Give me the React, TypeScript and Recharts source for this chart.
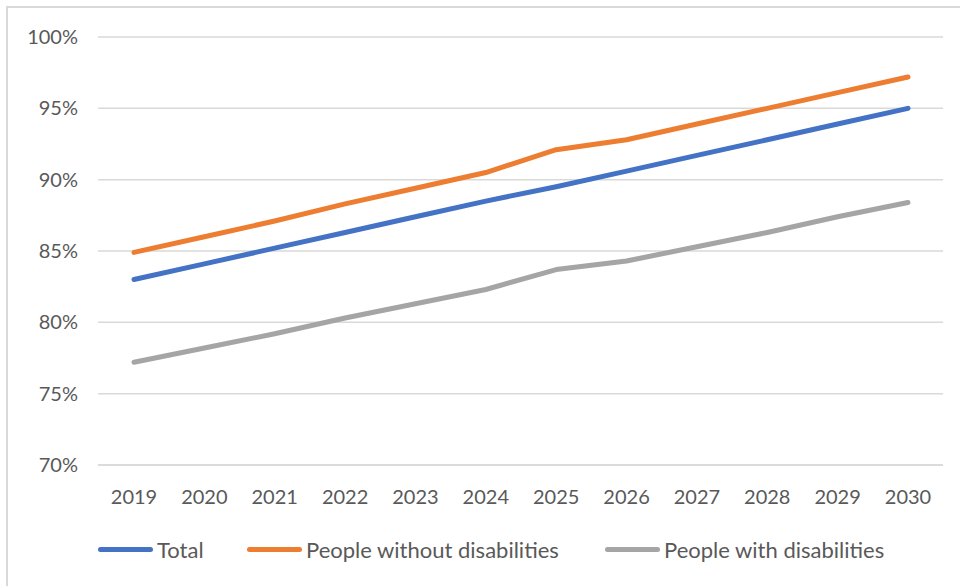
import React from 'react';
import { LineChart, Line, XAxis, YAxis, CartesianGrid, Legend } from 'recharts';

const years = ['2019', '2020', '2021', '2022', '2023', '2024', '2025', '2026', '2027', '2028', '2029', '2030'];
const total = [83.0, 84.1, 85.2, 86.3, 87.4, 88.5, 89.5, 90.6, 91.7, 92.8, 93.9, 95.0];
const withoutDisabilities = [84.9, 86.0, 87.1, 88.3, 89.4, 90.5, 92.1, 92.8, 93.9, 95.0, 96.1, 97.2];
const withDisabilities = [77.2, 78.2, 79.2, 80.3, 81.3, 82.3, 83.7, 84.3, 85.3, 86.3, 87.4, 88.4];
const yTicks = [70, 75, 80, 85, 90, 95, 100];
const seriesNames = ['Total', 'People without disabilities', 'People with disabilities'];
const seriesColors = ['#4472C4', '#ED7D31', '#A5A5A5'];

const data = years.map((y, i) => ({
  year: y,
  total: total[i],
  without: withoutDisabilities[i],
  with: withDisabilities[i],
}));

const FONT = 'Lato, "Open Sans", sans-serif';
const TEXT = '#595959';
const legendLefts = [98, 247, 605];

const renderLegend = (props: any) => {
  const payload = [...(props.payload || [])].sort(
    (a: any, b: any) => seriesNames.indexOf(a.value) - seriesNames.indexOf(b.value)
  );
  return (
    <div style={{ position: 'relative', width: 960, height: 30 }}>
      {payload.map((p: any, i: number) => (
        <div
          key={i}
          style={{
            position: 'absolute',
            left: legendLefts[i],
            top: 0,
            height: 30,
            display: 'flex',
            alignItems: 'center',
            whiteSpace: 'nowrap',
          }}
        >
          <div style={{ width: 55, height: 5, borderRadius: 3, background: p.color, marginRight: 4 }} />
          <span style={{ fontFamily: FONT, fontSize: 22, color: TEXT }}>{p.value}</span>
        </div>
      ))}
    </div>
  );
};

export default function App() {
  return (
    <div style={{ position: 'absolute', left: 0, top: 0, width: 960, height: 586, background: '#fff', overflow: 'hidden' }}>
      <div
        style={{
          position: 'absolute',
          left: 6,
          top: 6,
          width: 980,
          height: 600,
          border: '2px solid #D9D9D9',
          boxSizing: 'border-box',
        }}
      />
      <div style={{ position: 'absolute', left: 0, top: 0 }}>
        <LineChart width={960} height={586} data={data} margin={{ top: 37, right: 17, bottom: 71, left: 0 }}>
          <CartesianGrid vertical={false} stroke="#D9D9D9" strokeWidth={1.5} />
          <XAxis
            dataKey="year"
            axisLine={{ stroke: '#D9D9D9', strokeWidth: 1.5 }}
            tickLine={false}
            tickSize={0}
            tickMargin={25}
            height={50}
            padding={{ left: 36, right: 35 }}
            tick={{ fill: TEXT, fontSize: 20, fontFamily: FONT }}
            interval={0}
          />
          <YAxis
            domain={[70, 100]}
            ticks={yTicks}
            width={98}
            axisLine={false}
            tickLine={false}
            tickSize={0}
            tickMargin={20}
            tickFormatter={(v: number) => `${v}%`}
            tick={{ fill: TEXT, fontSize: 20, fontFamily: FONT }}
            allowDataOverflow
          />
          <Legend
            layout="horizontal"
            verticalAlign="middle"
            align="center"
            content={renderLegend}
            wrapperStyle={{ position: 'absolute', left: 0, top: 534, width: 960 }}
          />
          <Line type="linear" dataKey="total" name={seriesNames[0]} stroke={seriesColors[0]} strokeWidth={5} strokeLinecap="round" strokeLinejoin="round" dot={false} isAnimationActive={false} />
          <Line type="linear" dataKey="without" name={seriesNames[1]} stroke={seriesColors[1]} strokeWidth={5} strokeLinecap="round" strokeLinejoin="round" dot={false} isAnimationActive={false} />
          <Line type="linear" dataKey="with" name={seriesNames[2]} stroke={seriesColors[2]} strokeWidth={5} strokeLinecap="round" strokeLinejoin="round" dot={false} isAnimationActive={false} />
        </LineChart>
      </div>
    </div>
  );
}
